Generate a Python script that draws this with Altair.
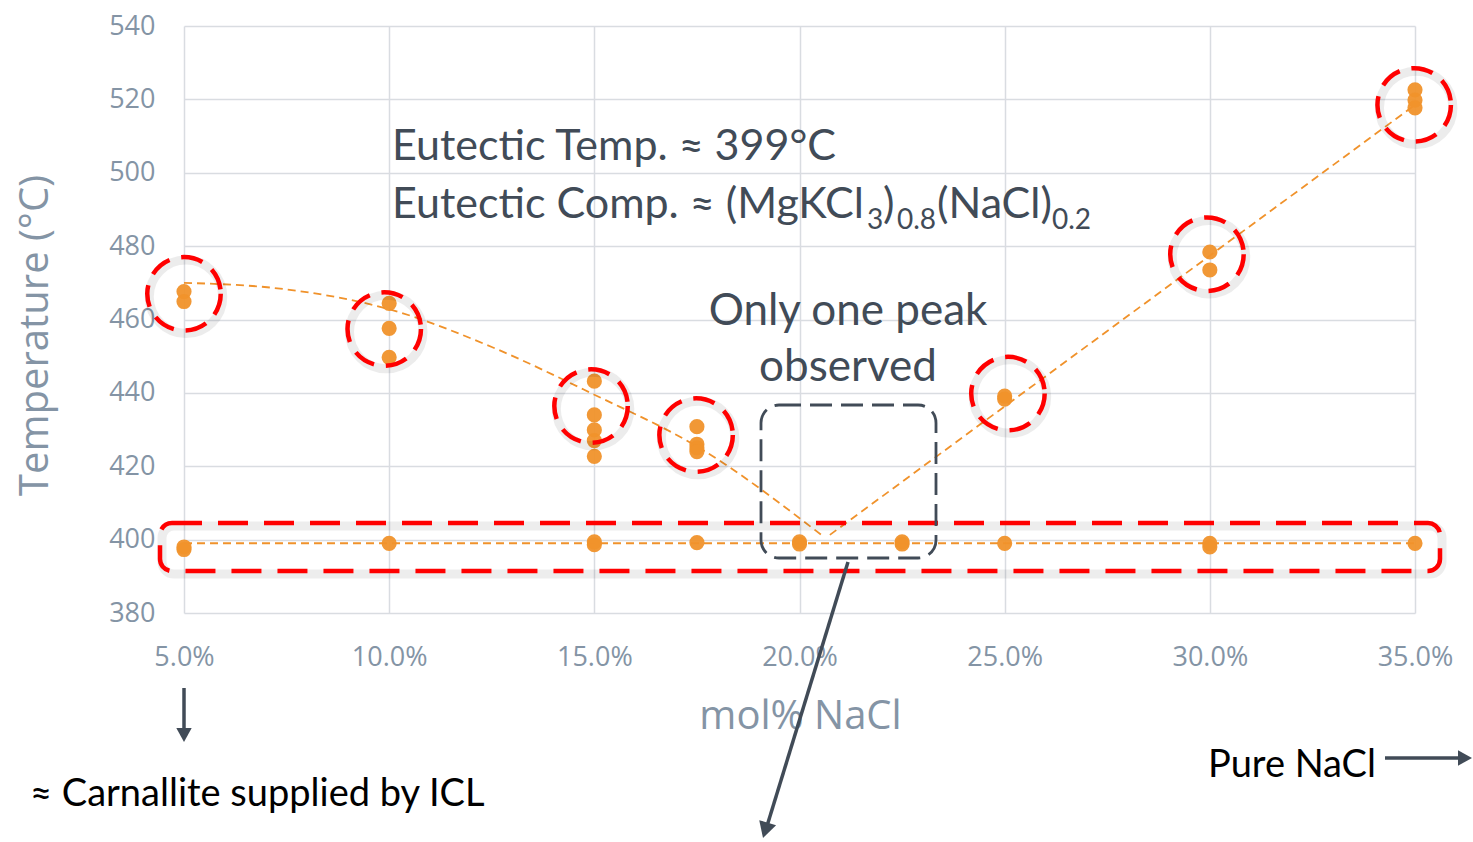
import altair as alt
import pandas as pd

# Measured peak temperatures (upper = liquidus, lower = eutectic plateau)
liq_comp = [5, 5, 10, 10, 10, 15, 15, 15, 15, 15, 17.5, 17.5, 17.5, 17.5, 25, 25, 30, 30, 35, 35, 35]
liq_temp = [467.6, 464.9, 464.4, 457.6, 449.7, 443.2, 434.0, 429.9, 427.0, 422.7,
            430.8, 426.0, 425.0, 424.0, 439.1, 438.3, 478.4, 473.5, 522.6, 519.8, 517.7]

eut_comp = [5, 5, 10, 15, 15, 17.5, 20, 20, 22.5, 22.5, 25, 30, 30, 35]
eut_temp = [397.3, 398.0, 399.0, 398.6, 399.4, 399.2, 398.8, 399.4, 398.8, 399.4, 399.0, 398.0, 399.0, 399.0]

# Trend lines: left liquidus branch, right liquidus branch, eutectic line
left_comp = [5, 7.5, 10, 12.5, 15, 17.5, 20.6]
left_temp = [470.0, 468.2, 462.8, 452.5, 439.5, 425.4, 400.7]
right_comp = [20.74, 35]
right_temp = [401.3, 518.5]
eut_line_comp = [5, 35]
eut_line_temp = [399, 399]

# Highlight rings around each liquidus cluster
ring_comp = [5, 9.88, 14.92, 17.48, 25.08, 29.93, 34.98]
ring_temp = [467.0, 457.4, 436.4, 428.5, 439.8, 477.8, 518.5]

x_ticks = [5, 10, 15, 20, 25, 30, 35]
y_ticks = [380, 400, 420, 440, 460, 480, 500, 520, 540]

ORANGE = "#f0922b"
DARK = "#414b57"
AXIS_GREY = "#8494a5"
W, H = 1231, 587
OX, OY = 184, 26  # plot origin inside the page

x_scale = alt.Scale(domain=[5, 35], nice=False, zero=False)
y_scale = alt.Scale(domain=[380, 540], nice=False, zero=False)

x_axis = alt.Axis(values=x_ticks, labelExpr="format(datum.value, '.1f') + '%'",
                  title="mol% NaCl", labelPadding=31, titleX=616, titleY=115,
                  titleBaseline="alphabetic", titleAlign="center", labelFlush=False)
y_axis = alt.Axis(values=y_ticks, title="Temperature (°C)", labelPadding=29,
                  titleX=-137, titleY=309, titleAngle=270, titleAlign="center",
                  titleBaseline="alphabetic")

one = pd.DataFrame({"k": [0]})


def xy():
    return dict(x=alt.X("c:Q", scale=x_scale, axis=x_axis),
                y=alt.Y("t:Q", scale=y_scale, axis=y_axis))


def frame(c, t):
    return pd.DataFrame({"c": c, "t": t})


def line(c, t, interp="linear", width=1.8):
    return alt.Chart(frame(c, t)).mark_line(
        color=ORANGE, strokeWidth=width, strokeDash=[8, 5], interpolate=interp
    ).encode(**xy())


def text(s, x, y, size, color=DARK, align="left", font="Lato"):
    return alt.Chart(one).mark_text(
        text=s, align=align, baseline="alphabetic", fontSize=size, font=font, color=color
    ).encode(x=alt.value(x - OX), y=alt.value(y - OY))


def rule(x1, y1, x2, y2, color=DARK, width=3.5):
    return alt.Chart(one).mark_rule(color=color, strokeWidth=width).encode(
        x=alt.value(x1 - OX), y=alt.value(y1 - OY), x2=alt.value(x2 - OX), y2=alt.value(y2 - OY))


def head(x, y, angle, size=1024, color=DARK):
    return alt.Chart(one).mark_point(
        shape="M0,0L-0.55,-1L0.55,-1Z", filled=True, opacity=1, color=color, size=size, angle=angle
    ).encode(x=alt.value(x - OX), y=alt.value(y - OY))


base_axes = alt.Chart(frame(x_ticks, [380] * len(x_ticks))).mark_point(opacity=0).encode(**xy())

lines = (
    line(left_comp, left_temp, "monotone")
    + line(right_comp, right_temp)
    + line(eut_line_comp, eut_line_temp, width=2)
)

points = (
    alt.Chart(frame(liq_comp, liq_temp)).mark_circle(size=230, color=ORANGE, opacity=0.95).encode(**xy())
    + alt.Chart(frame(eut_comp, eut_temp)).mark_circle(size=230, color=ORANGE, opacity=0.95).encode(**xy())
)

ring_df = frame(ring_comp, ring_temp)
ring_shadow = alt.Chart(ring_df).mark_point(
    shape="circle", size=5400, color="#000000", strokeWidth=9, opacity=0.07, xOffset=2, yOffset=3
).encode(**xy())
rings = alt.Chart(ring_df).mark_point(
    shape="circle", size=5400, color="#ff0000", strokeWidth=4.5, strokeDash=[22, 12], opacity=1
).encode(**xy())

red_box_shadow = alt.Chart(one).mark_rect(
    fillOpacity=0, stroke="#000000", strokeOpacity=0.07, strokeWidth=9, cornerRadius=12
).encode(x=alt.value(160 - OX + 2), x2=alt.value(1440 - OX + 2), y=alt.value(523 - OY + 3), y2=alt.value(571 - OY + 3))
red_box = alt.Chart(one).mark_rect(
    fillOpacity=0, stroke="#ff0000", strokeWidth=4.5, strokeDash=[30, 16], cornerRadius=12
).encode(x=alt.value(160 - OX), x2=alt.value(1440 - OX), y=alt.value(523 - OY), y2=alt.value(571 - OY))

grey_box = alt.Chart(one).mark_rect(
    fillOpacity=0, stroke=DARK, strokeWidth=2.8, strokeDash=[22, 9], cornerRadius=18
).encode(x=alt.value(761 - OX), x2=alt.value(936 - OX), y=alt.value(405 - OY), y2=alt.value(558 - OY))

notes = (
    text("Eutectic Temp. ≈ 399°C", 392, 160, 43)
    + text("Eutectic Comp. ≈ (MgKCl", 392, 218, 43)
    + text("3", 867, 229, 28)
    + text(")", 883, 218, 43)
    + text("0.8", 897, 229, 28)
    + text("(NaCl)", 937, 218, 43)
    + text("0.2", 1052, 229, 28)
    + text("Only one peak", 848, 325, 44, align="center")
    + text("observed", 848, 381, 44, align="center")
    + text("≈ Carnallite supplied by ICL", 30, 806, 38, color="#000000")
    + text("Pure NaCl", 1208, 777, 38, color="#000000")
)

arrows = (
    rule(848, 562, 767, 826)
    + head(763, 838, 17)
    + rule(184, 688, 184, 728, width=3.5)
    + head(184, 742, 0, size=784)
    + rule(1385, 758, 1458, 758, width=3.5)
    + head(1472, 758, 270, size=784)
)

chart = alt.layer(
    base_axes, lines, points, ring_shadow, rings, red_box_shadow, red_box, grey_box, arrows, notes
).properties(
    width=W, height=H,
    autosize=alt.AutoSizeParams(type="none"),
    padding={"left": OX, "top": OY, "right": 1473 - OX - W, "bottom": 842 - OY - H},
).configure_view(stroke=None).configure_axis(
    grid=True, gridColor="#d9dce1", gridWidth=1.5, domain=False, ticks=False,
    labelFont="Open Sans", labelFontSize=27, labelColor=AXIS_GREY,
    titleFont="Open Sans", titleFontSize=40, titleColor=AXIS_GREY, titleFontWeight="normal",
)

chart.save("out.html", embed_options={"renderer": "svg", "actions": False})
